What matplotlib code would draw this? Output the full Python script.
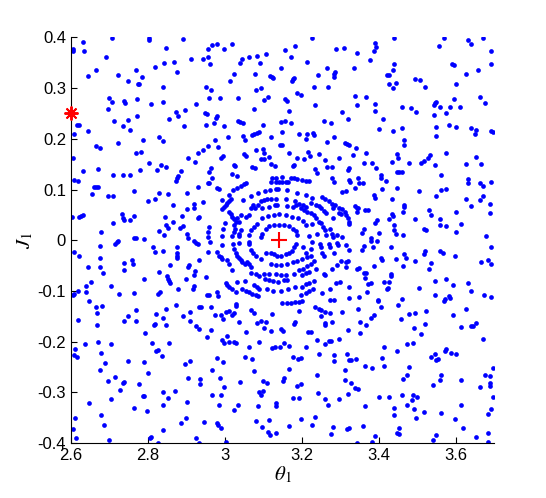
import numpy as np
import matplotlib
matplotlib.use('Agg')
from matplotlib import pyplot as plt

plt.rcParams['font.family'] = ['Liberation Sans', 'DejaVu Sans']
plt.rcParams['mathtext.fontset'] = 'stix'
plt.rcParams['axes.unicode_minus'] = False

# Poincare section points (theta_1, J_1)
orbit_nw = [
    (2.606, 0.377), (2.606, 0.373), (2.632, 0.391), (2.635, 0.374), (2.707, 0.399),
    (2.802, 0.399), (2.802, 0.395), (2.892, 0.397), (2.847, 0.379), (2.956, 0.377),
    (2.692, 0.361), (2.643, 0.323), (2.666, 0.335), (2.721, 0.326), (2.770, 0.335),
    (2.784, 0.321), (2.773, 0.308), (2.778, 0.308), (2.749, 0.314), (2.819, 0.341),
    (2.842, 0.349), (2.868, 0.352), (2.875, 0.331), (2.912, 0.357), (2.943, 0.357),
    (2.955, 0.362), (2.962, 0.348), (2.840, 0.302), (2.950, 0.303), (2.958, 0.280),
    (2.699, 0.281), (2.707, 0.272), (2.738, 0.275), (2.740, 0.270), (2.772, 0.279),
    (2.808, 0.269), (2.840, 0.273), (2.695, 0.258), (2.712, 0.235), (2.734, 0.226),
    (2.749, 0.238), (2.754, 0.217), (2.771, 0.245), (2.855, 0.240), (2.872, 0.253),
    (2.879, 0.244), (2.897, 0.256), (2.925, 0.269), (2.948, 0.250), (2.954, 0.248),
    (2.894, 0.226), (2.952, 0.227), (2.616, 0.227), (2.622, 0.227), (2.645, 0.215),
    (2.609, 0.209), (2.721, 0.191), (2.787, 0.197), (2.829, 0.203), (2.838, 0.195),
    (2.664, 0.185), (2.676, 0.181), (2.770, 0.173), (2.783, 0.175), (2.904, 0.162),
    (2.930, 0.173), (2.942, 0.178), (2.956, 0.186), (2.605, 0.162), (2.803, 0.153),
    (2.835, 0.148), (2.923, 0.154),
]

orbit_n = [
    (2.966, 0.385), (2.979, 0.387), (2.998, 0.377), (3.018, 0.387), (3.039, 0.349),
    (3.044, 0.357), (3.062, 0.361), (3.083, 0.364), (3.091, 0.349), (3.107, 0.367),
    (3.156, 0.375), (3.182, 0.383), (3.171, 0.361), (3.226, 0.399), (3.213, 0.351),
    (3.290, 0.377), (3.309, 0.379), (3.024, 0.327), (3.013, 0.314), (3.078, 0.327),
    (3.117, 0.323), (3.123, 0.321), (3.126, 0.319), (3.146, 0.339), (3.174, 0.314),
    (3.178, 0.317), (3.181, 0.319), (3.242, 0.325), (3.265, 0.339), (3.283, 0.327),
    (3.287, 0.331), (3.284, 0.321), (2.964, 0.296), (3.081, 0.296), (3.094, 0.300),
    (3.103, 0.276), (3.112, 0.282), (3.187, 0.290), (3.197, 0.286), (3.156, 0.278),
    (3.162, 0.274), (3.233, 0.302), (3.267, 0.302), (2.987, 0.280), (3.034, 0.280),
    (3.076, 0.258), (3.166, 0.254), (3.235, 0.266), (3.304, 0.252), (3.319, 0.240),
    (2.976, 0.242), (2.980, 0.245), (2.972, 0.231), (2.998, 0.225), (3.034, 0.235),
    (3.040, 0.233), (3.047, 0.231), (3.099, 0.227), (3.146, 0.233), (3.156, 0.235),
    (3.171, 0.231), (3.259, 0.236), (3.275, 0.231), (3.008, 0.203), (2.974, 0.197),
    (3.046, 0.205), (3.052, 0.197), (3.070, 0.207), (3.077, 0.209), (3.084, 0.211),
    (3.089, 0.213), (3.120, 0.203), (3.148, 0.213), (3.193, 0.209), (3.213, 0.209),
    (3.228, 0.211), (3.232, 0.207), (3.211, 0.199), (3.283, 0.203), (3.266, 0.193),
    (2.982, 0.183), (3.143, 0.187), (3.148, 0.187), (3.166, 0.173), (3.081, 0.177),
    (3.099, 0.179), (3.101, 0.173), (3.049, 0.171), (3.055, 0.167), (2.991, 0.163),
    (2.995, 0.166), (3.094, 0.161), (3.103, 0.161), (3.114, 0.165), (3.187, 0.163),
    (3.205, 0.161), (3.221, 0.167), (3.216, 0.175), (3.244, 0.171), (3.260, 0.159),
    (3.296, 0.163), (3.312, 0.191), (3.317, 0.189), (3.322, 0.187), (3.024, 0.149),
    (3.026, 0.146), (3.070, 0.145), (3.078, 0.143), (3.119, 0.150), (3.130, 0.146),
    (3.178, 0.146), (3.180, 0.149), (2.964, 0.142), (3.265, 0.145), (3.278, 0.145),
    (3.235, 0.140), (3.322, 0.142), (2.966, 0.122),
]

orbit_ne = [
    (3.439, 0.399), (3.569, 0.398), (3.670, 0.399), (3.631, 0.395), (3.641, 0.387),
    (3.390, 0.389), (3.392, 0.381), (3.387, 0.373), (3.343, 0.369), (3.556, 0.383),
    (3.691, 0.373), (3.377, 0.355), (3.441, 0.347), (3.335, 0.339), (3.436, 0.335),
    (3.421, 0.325), (3.426, 0.325), (3.591, 0.347), (3.595, 0.345), (3.691, 0.347),
    (3.657, 0.335), (3.626, 0.327), (3.493, 0.318), (3.506, 0.316), (3.426, 0.308),
    (3.444, 0.310), (3.436, 0.300), (3.519, 0.302), (3.602, 0.308), (3.338, 0.284),
    (3.366, 0.282), (3.343, 0.266), (3.390, 0.268), (3.390, 0.254), (3.460, 0.262),
    (3.483, 0.260), (3.496, 0.252), (3.543, 0.266), (3.547, 0.270), (3.550, 0.272),
    (3.558, 0.262), (3.595, 0.278), (3.584, 0.262), (3.610, 0.262), (3.574, 0.250),
    (3.662, 0.282), (3.675, 0.270), (3.410, 0.240), (3.543, 0.246), (3.402, 0.219),
    (3.436, 0.215), (3.460, 0.221), (3.550, 0.223), (3.582, 0.227), (3.602, 0.223),
    (3.550, 0.205), (3.641, 0.221), (3.654, 0.217), (3.649, 0.209), (3.692, 0.215),
    (3.698, 0.213), (3.467, 0.197), (3.465, 0.187), (3.340, 0.181), (3.332, 0.169),
    (3.366, 0.173), (3.447, 0.171), (3.449, 0.163), (3.532, 0.169), (3.528, 0.163),
    (3.517, 0.157), (3.509, 0.152), (3.576, 0.173), (3.654, 0.165), (3.361, 0.153),
    (3.382, 0.152), (3.434, 0.155), (3.480, 0.152), (3.547, 0.148), (3.628, 0.150),
    (3.665, 0.150), (3.392, 0.142),
]

orbit_w = [
    (2.630, 0.136), (2.669, 0.140), (2.780, 0.138), (2.823, 0.138), (2.847, 0.145),
    (2.887, 0.137), (2.959, 0.134), (2.609, 0.118), (2.619, 0.117), (2.708, 0.128),
    (2.734, 0.128), (2.754, 0.128), (2.878, 0.126), (2.875, 0.122), (2.872, 0.117),
    (2.955, 0.112), (2.959, 0.112), (2.659, 0.106), (2.665, 0.106), (2.669, 0.106),
    (2.765, 0.098), (2.829, 0.094), (2.853, 0.092), (2.901, 0.094), (2.929, 0.106),
    (2.654, 0.092), (2.696, 0.087), (2.708, 0.087), (2.819, 0.082), (2.801, 0.078),
    (2.866, 0.070), (2.920, 0.072), (2.920, 0.064), (2.901, 0.061), (2.942, 0.076),
    (2.603, 0.045), (2.622, 0.046), (2.626, 0.048), (2.630, 0.049), (2.733, 0.051),
    (2.735, 0.043), (2.738, 0.039), (2.754, 0.039), (2.764, 0.048), (2.710, 0.034),
    (2.845, 0.045), (2.847, 0.030), (2.853, 0.025), (2.888, 0.047), (2.884, 0.025),
    (2.892, 0.029), (2.930, 0.043), (2.933, 0.046), (2.959, 0.026), (2.955, 0.016),
    (2.956, 0.007), (2.961, -0.003), (2.828, 0.019), (2.865, 0.036), (2.842, 0.011),
    (2.679, 0.017), (2.765, 0.004), (2.770, 0.004), (2.791, 0.003), (2.901, 0.013),
    (2.905, 0.004), (2.919, -0.001), (2.924, -0.005), (2.929, -0.008), (2.719, -0.003),
    (2.715, -0.007), (2.721, -0.002), (2.675, -0.011), (2.813, -0.013), (2.818, -0.023),
    (2.876, -0.013), (2.609, -0.024), (2.622, -0.031), (2.839, -0.021), (2.876, -0.026),
    (2.876, -0.030), (2.876, -0.034), (2.957, -0.024), (2.675, -0.034), (2.758, -0.038),
    (2.761, -0.046), (2.738, -0.044), (2.933, -0.038), (2.645, -0.052), (2.676, -0.053),
    (2.684, -0.064), (2.738, -0.059), (2.858, -0.048), (2.906, -0.049), (2.903, -0.053),
    (2.923, -0.061), (2.920, -0.068), (2.830, -0.062), (2.849, -0.070), (2.853, -0.076),
    (2.856, -0.080), (2.858, -0.084), (2.899, -0.076), (2.952, -0.072), (2.790, -0.076),
    (2.653, -0.082), (2.640, -0.090), (2.705, -0.090), (2.639, -0.101), (2.617, -0.100),
    (2.609, -0.105), (2.604, -0.107), (2.920, -0.090), (2.917, -0.096), (2.877, -0.096),
    (2.831, -0.101), (2.825, -0.106), (2.724, -0.106), (2.764, -0.103), (2.953, -0.107),
    (2.959, -0.107),
]

orbit_core = [
    (3.240, 0.132), (3.019, 0.130), (3.032, 0.127), (3.123, 0.123), (3.132, 0.123),
    (3.149, 0.125), (3.171, 0.123), (3.179, 0.122), (3.188, 0.121), (3.201, 0.119),
    (3.210, 0.117), (3.218, 0.117), (3.119, 0.115), (3.132, 0.115), (3.140, 0.115),
    (3.149, 0.115), (3.158, 0.115), (3.165, 0.115), (3.279, 0.122), (3.283, 0.115),
    (2.980, 0.103), (2.985, 0.102), (3.021, 0.099), (3.032, 0.103), (3.041, 0.107),
    (3.050, 0.110), (3.056, 0.113), (3.087, 0.094), (3.104, 0.097), (3.117, 0.099),
    (3.132, 0.101), (3.139, 0.101), (3.162, 0.099), (3.188, 0.094), (3.210, 0.090),
    (3.227, 0.084), (3.253, 0.086), (3.261, 0.081), (3.270, 0.077), (3.279, 0.072),
    (3.287, 0.069), (3.298, 0.064), (3.305, 0.061), (3.305, 0.096), (2.992, 0.079),
    (3.011, 0.090), (3.015, 0.082), (3.011, 0.078), (3.006, 0.074), (3.002, 0.070),
    (2.998, 0.066), (2.993, 0.061), (3.047, 0.079), (3.067, 0.088), (3.093, 0.077),
    (3.101, 0.079), (3.110, 0.081), (3.119, 0.082), (3.132, 0.081), (3.158, 0.081),
    (3.182, 0.077), (3.184, 0.070), (3.192, 0.072), (3.203, 0.069), (3.210, 0.066),
    (3.225, 0.074), (3.236, 0.070), (3.244, 0.067), (3.251, 0.063), (3.257, 0.057),
    (3.263, 0.053), (3.073, 0.069), (3.087, 0.070), (3.069, 0.064), (3.078, 0.063),
    (3.114, 0.066), (3.130, 0.070), (3.136, 0.070), (3.161, 0.068), (3.177, 0.066),
    (3.197, 0.063), (3.205, 0.059), (3.214, 0.056), (3.223, 0.053), (3.231, 0.049),
    (3.238, 0.043), (3.244, 0.036), (3.280, 0.063), (3.296, 0.053), (3.303, 0.051),
    (3.280, 0.044), (3.011, 0.056), (3.015, 0.051), (3.019, 0.046), (3.024, 0.042),
    (3.041, 0.049), (3.032, 0.043), (3.028, 0.036), (3.024, 0.030), (3.056, 0.046),
    (3.063, 0.049), (3.097, 0.063), (3.097, 0.043), (3.113, 0.048), (3.127, 0.049),
    (3.142, 0.051), (3.158, 0.049), (3.175, 0.046), (3.191, 0.043), (3.203, 0.038),
    (3.211, 0.030), (3.084, 0.033), (3.075, 0.026), (3.069, 0.020), (3.064, 0.010),
    (3.000, 0.035), (2.995, 0.023), (2.992, 0.009), (3.037, 0.036), (3.026, 0.023),
    (3.024, 0.016), (3.019, 0.008), (3.041, 0.020), (3.038, 0.013), (3.037, 0.009),
    (3.106, 0.023), (3.114, 0.028), (3.127, 0.030), (3.142, 0.031), (3.153, 0.030),
    (3.166, 0.028), (3.177, 0.023), (3.184, 0.018), (3.188, 0.010), (3.097, 0.013),
    (3.095, 0.007), (3.227, 0.033), (3.251, 0.035), (3.255, 0.026), (3.260, 0.020),
    (3.263, 0.010), (3.218, 0.008), (3.240, 0.013), (3.274, 0.022), (3.279, 0.013),
    (3.280, 0.007), (3.292, 0.010), (3.305, 0.007),
    (2.993, -0.010), (2.980, -0.023), (2.985, -0.030), (3.021, -0.008), (3.037, -0.005),
    (3.024, -0.018), (3.028, -0.025), (3.032, -0.030), (3.037, -0.034), (3.041, -0.038),
    (3.045, -0.043), (3.052, -0.047), (3.063, -0.003), (3.064, -0.008), (3.067, -0.020),
    (3.073, -0.026), (3.080, -0.030), (3.093, -0.036), (3.107, -0.026), (3.119, -0.026),
    (3.127, -0.028), (3.136, -0.030), (3.147, -0.030), (3.158, -0.028), (3.166, -0.025),
    (3.175, -0.021), (3.181, -0.014), (3.184, -0.007), (3.203, -0.013), (3.210, -0.026),
    (3.225, -0.018), (3.227, -0.003), (3.248, -0.008), (3.249, -0.014), (3.253, -0.026),
    (3.257, -0.030), (3.270, -0.008), (3.274, -0.014), (3.283, -0.026), (3.292, -0.005),
    (3.294, -0.010), (3.006, -0.038), (3.011, -0.047), (2.989, -0.032), (2.993, -0.036),
    (3.018, -0.058), (3.058, -0.043), (3.063, -0.047), (3.069, -0.053), (3.067, -0.065),
    (3.080, -0.067), (3.090, -0.071), (3.101, -0.066), (3.119, -0.047), (3.132, -0.049),
    (3.146, -0.049), (3.162, -0.046), (3.177, -0.043), (3.188, -0.040), (3.201, -0.036),
    (3.214, -0.033), (3.223, -0.030), (3.231, -0.040), (3.223, -0.046), (3.214, -0.051),
    (3.203, -0.056), (3.194, -0.059), (3.116, -0.067), (3.132, -0.067), (3.145, -0.069),
    (3.158, -0.069), (3.104, -0.076), (3.114, -0.078), (3.125, -0.080), (3.139, -0.082),
    (3.153, -0.079), (3.162, -0.078), (3.179, -0.066), (3.201, -0.069), (3.210, -0.065),
    (3.220, -0.063), (3.236, -0.056), (3.257, -0.066), (3.279, -0.056), (3.292, -0.049),
    (3.303, -0.040), (3.002, -0.084), (3.006, -0.089), (3.012, -0.092), (3.018, -0.097),
    (3.032, -0.082), (3.052, -0.080), (3.045, -0.096), (3.054, -0.099), (3.063, -0.102),
    (3.071, -0.105), (3.080, -0.107), (3.087, -0.109), (3.075, -0.089), (3.084, -0.092),
    (3.090, -0.096), (3.110, -0.097), (3.125, -0.100), (3.145, -0.100), (3.165, -0.097),
    (3.182, -0.092), (3.197, -0.107), (3.210, -0.104), (3.220, -0.100), (3.229, -0.097),
    (3.201, -0.092), (3.210, -0.087), (3.220, -0.084), (3.231, -0.080), (3.253, -0.104),
    (3.261, -0.069), (3.274, -0.097), (3.289, -0.084), (3.300, -0.082), (2.980, -0.102),
    (2.983, -0.109), (3.030, -0.102), (3.028, -0.125), (3.030, -0.130), (3.002, -0.142),
    (3.011, -0.140), (3.067, -0.138), (3.075, -0.144), (3.149, -0.124), (3.162, -0.124),
    (3.171, -0.123), (3.182, -0.122), (3.192, -0.121), (3.201, -0.119), (3.123, -0.145),
    (3.192, -0.140), (3.234, -0.132), (3.244, -0.135), (3.251, -0.138), (3.274, -0.117),
    (3.283, -0.117), (3.261, -0.142), (3.274, -0.144), (3.305, -0.142),
]

orbit_e = [
    (3.320, 0.138), (3.447, 0.134), (3.454, 0.134), (3.460, 0.135), (3.324, 0.119),
    (3.326, 0.114), (3.346, 0.123), (3.348, 0.112), (3.358, 0.112), (3.339, 0.103),
    (3.405, 0.128), (3.406, 0.123), (3.419, 0.117), (3.447, 0.104), (3.409, 0.102),
    (3.387, 0.090), (3.390, 0.084), (3.434, 0.082), (3.504, 0.098), (3.561, 0.128),
    (3.550, 0.088), (3.563, 0.099), (3.576, 0.101), (3.631, 0.121), (3.633, 0.112),
    (3.662, 0.112), (3.672, 0.107), (3.691, 0.114), (3.626, 0.082), (3.662, 0.080),
    (3.672, 0.088), (3.639, 0.067), (3.688, 0.072), (3.688, 0.053), (3.316, 0.097),
    (3.338, 0.067), (3.344, 0.064), (3.346, 0.063), (3.343, 0.055), (3.365, 0.059),
    (3.372, 0.059), (3.313, 0.056), (3.316, 0.049), (3.319, 0.043), (3.322, 0.036),
    (3.324, 0.033), (3.465, 0.070), (3.467, 0.065), (3.462, 0.055), (3.435, 0.051),
    (3.437, 0.048), (3.428, 0.041), (3.439, 0.031), (3.530, 0.059), (3.535, 0.049),
    (3.493, 0.041), (3.558, 0.041), (3.558, 0.031), (3.576, 0.029), (3.600, 0.055),
    (3.615, 0.033), (3.600, 0.017), (3.361, 0.023), (3.356, 0.015), (3.391, 0.035),
    (3.396, 0.040), (3.402, 0.015), (3.441, 0.020), (3.445, 0.013), (3.462, 0.011),
    (3.517, 0.023), (3.522, 0.021), (3.680, 0.009), (3.379, 0.005), (3.379, -0.001),
    (3.395, -0.001), (3.361, -0.012), (3.357, -0.020), (3.384, -0.013), (3.431, -0.013),
    (3.316, -0.010), (3.322, -0.020), (3.521, -0.022), (3.517, -0.028), (3.560, -0.022),
    (3.566, -0.026), (3.599, -0.030), (3.693, -0.013), (3.407, -0.034), (3.409, -0.038),
    (3.444, -0.036), (3.467, -0.028), (3.471, -0.034), (3.493, -0.040), (3.535, -0.044),
    (3.530, -0.056), (3.462, -0.050), (3.387, -0.050), (3.316, -0.043), (3.320, -0.040),
    (3.348, -0.054), (3.344, -0.056), (3.363, -0.064), (3.368, -0.064), (3.364, -0.074),
    (3.431, -0.066), (3.432, -0.071), (3.371, -0.086), (3.379, -0.084), (3.415, -0.082),
    (3.426, -0.082), (3.424, -0.094), (3.421, -0.096), (3.504, -0.094), (3.547, -0.080),
    (3.576, -0.076), (3.592, -0.088), (3.633, -0.084), (3.639, -0.099), (3.667, -0.042),
    (3.683, -0.038), (3.691, -0.046), (3.316, -0.053), (3.322, -0.092), (3.348, -0.111),
    (3.369, -0.101), (3.397, -0.117), (3.460, -0.115), (3.547, -0.107), (3.571, -0.115),
    (3.582, -0.109), (3.584, -0.113), (3.673, -0.107), (3.691, -0.111), (3.322, -0.114),
]

orbit_sw = [
    (2.648, -0.119), (2.664, -0.131), (2.681, -0.129), (2.667, -0.143), (2.619, -0.157),
    (2.667, -0.167), (2.738, -0.159), (2.749, -0.149), (2.770, -0.137), (2.770, -0.159),
    (2.793, -0.182), (2.815, -0.167), (2.819, -0.165), (2.822, -0.146), (2.840, -0.153),
    (2.847, -0.167), (2.847, -0.135), (2.873, -0.127), (2.892, -0.149), (2.910, -0.141),
    (2.910, -0.159), (2.925, -0.169), (2.934, -0.175), (2.934, -0.131), (2.937, -0.132),
    (2.954, -0.190), (2.636, -0.204), (2.611, -0.214), (2.609, -0.226), (2.616, -0.231),
    (2.671, -0.200), (2.679, -0.222), (2.689, -0.242), (2.705, -0.204), (2.676, -0.256),
    (2.747, -0.238), (2.790, -0.240), (2.799, -0.262), (2.811, -0.202), (2.821, -0.218),
    (2.827, -0.216), (2.837, -0.228), (2.855, -0.202), (2.897, -0.244), (2.910, -0.238),
    (2.904, -0.271), (2.936, -0.273), (2.936, -0.283), (2.697, -0.277), (2.715, -0.270),
    (2.736, -0.281), (2.738, -0.279), (2.728, -0.295), (2.777, -0.283), (2.786, -0.306),
    (2.790, -0.306), (2.764, -0.331), (2.798, -0.337), (2.840, -0.299), (2.840, -0.325),
    (2.853, -0.311), (2.871, -0.297), (2.902, -0.319), (2.705, -0.313), (2.648, -0.321),
    (2.679, -0.345), (2.687, -0.364), (2.611, -0.350), (2.606, -0.372), (2.613, -0.389),
    (2.699, -0.394), (2.806, -0.389), (2.808, -0.387), (2.827, -0.399), (2.840, -0.374),
    (2.886, -0.360), (2.899, -0.350), (2.946, -0.358), (2.925, -0.390), (2.933, -0.399),
]

orbit_s = [
    (2.964, -0.131), (2.974, -0.147), (2.990, -0.147), (2.995, -0.155), (3.019, -0.147),
    (3.023, -0.144), (3.037, -0.161), (3.083, -0.163), (3.093, -0.159), (3.106, -0.161),
    (3.101, -0.173), (3.120, -0.179), (3.146, -0.175), (3.151, -0.178), (3.182, -0.161),
    (3.179, -0.165), (3.215, -0.181), (3.225, -0.181), (3.249, -0.150), (3.279, -0.161),
    (3.260, -0.163), (3.260, -0.166), (3.320, -0.176), (2.964, -0.176), (2.993, -0.196),
    (2.998, -0.203), (3.005, -0.188), (3.011, -0.201), (3.024, -0.201), (3.028, -0.203),
    (3.056, -0.181), (3.062, -0.211), (3.088, -0.201), (3.123, -0.212), (3.130, -0.210),
    (3.143, -0.211), (3.153, -0.203), (3.166, -0.208), (3.211, -0.211), (3.239, -0.196),
    (3.260, -0.204), (3.270, -0.199), (3.277, -0.199), (3.296, -0.194), (3.317, -0.224),
    (3.324, -0.236), (3.284, -0.227), (3.284, -0.238), (3.244, -0.224), (3.177, -0.231),
    (3.190, -0.234), (3.197, -0.232), (3.052, -0.231), (3.070, -0.234), (2.980, -0.233),
    (2.995, -0.240), (2.966, -0.256), (3.075, -0.258), (3.166, -0.254), (3.239, -0.265),
    (2.987, -0.271), (3.039, -0.279), (3.099, -0.277), (3.109, -0.281), (3.153, -0.271),
    (3.151, -0.277), (3.312, -0.256), (3.313, -0.275), (2.998, -0.289), (3.187, -0.287),
    (3.197, -0.283), (2.966, -0.305), (2.990, -0.305), (3.088, -0.300), (3.099, -0.298),
    (3.093, -0.304), (3.242, -0.301), (3.320, -0.303), (2.985, -0.325), (3.034, -0.325),
    (3.024, -0.335), (3.086, -0.327), (3.133, -0.321), (3.133, -0.326), (3.178, -0.311),
    (3.192, -0.311), (3.260, -0.313), (3.267, -0.325), (3.296, -0.313), (2.980, -0.360),
    (2.983, -0.364), (2.989, -0.370), (3.082, -0.356), (3.114, -0.354), (3.096, -0.368),
    (3.112, -0.378), (3.117, -0.384), (3.133, -0.380), (3.166, -0.366), (3.197, -0.352),
    (3.234, -0.348), (3.226, -0.364), (3.280, -0.368), (3.277, -0.382), (3.317, -0.372),
    (3.324, -0.370), (3.004, -0.398),
]

orbit_se = [
    (3.398, -0.119), (3.345, -0.135), (3.407, -0.131), (3.449, -0.127), (3.570, -0.119),
    (3.524, -0.139), (3.493, -0.143), (3.478, -0.145), (3.457, -0.155), (3.379, -0.153),
    (3.387, -0.147), (3.351, -0.161), (3.366, -0.167), (3.628, -0.135), (3.592, -0.147),
    (3.613, -0.171), (3.639, -0.169), (3.646, -0.169), (3.654, -0.163), (3.351, -0.182),
    (3.491, -0.173), (3.519, -0.165), (3.511, -0.184), (3.672, -0.194), (3.473, -0.204),
    (3.488, -0.202), (3.415, -0.210), (3.447, -0.218), (3.535, -0.230), (3.547, -0.224),
    (3.548, -0.236), (3.553, -0.234), (3.571, -0.218), (3.575, -0.215), (3.587, -0.222),
    (3.602, -0.224), (3.327, -0.236), (3.340, -0.234), (3.408, -0.232), (3.364, -0.248),
    (3.382, -0.252), (3.415, -0.248), (3.478, -0.250), (3.474, -0.265), (3.462, -0.273),
    (3.561, -0.265), (3.558, -0.275), (3.613, -0.275), (3.675, -0.265), (3.688, -0.268),
    (3.688, -0.281), (3.688, -0.287), (3.696, -0.252), (3.327, -0.281), (3.338, -0.291),
    (3.345, -0.293), (3.540, -0.285), (3.662, -0.289), (3.400, -0.309), (3.426, -0.309),
    (3.460, -0.305), (3.488, -0.305), (3.486, -0.315), (3.499, -0.309), (3.473, -0.325),
    (3.364, -0.327), (3.696, -0.309), (3.439, -0.331), (3.441, -0.345), (3.491, -0.333),
    (3.517, -0.339), (3.561, -0.341), (3.498, -0.350), (3.615, -0.325), (3.692, -0.333),
    (3.685, -0.343), (3.597, -0.352), (3.358, -0.366), (3.447, -0.380), (3.454, -0.382),
    (3.452, -0.370), (3.390, -0.386), (3.382, -0.398), (3.343, -0.399), (3.540, -0.394),
    (3.548, -0.384), (3.620, -0.370), (3.652, -0.388), (3.683, -0.380), (3.683, -0.398),
]

# fixed point and initial condition
fixed_theta, fixed_J = [3.1416], [0.0]
start_theta, start_J = [2.6], [0.25]

xticks = [2.6, 2.8, 3.0, 3.2, 3.4, 3.6]
xtick_labels = ['2.6', '2.8', '3', '3.2', '3.4', '3.6']
yticks = [-0.4, -0.3, -0.2, -0.1, 0.0, 0.1, 0.2, 0.3, 0.4]
ytick_labels = ['-0.4', '-0.3', '-0.2', '-0.1', '0', '0.1', '0.2', '0.3', '0.4']

pts = np.array(orbit_nw + orbit_n + orbit_ne + orbit_w + orbit_core
               + orbit_e + orbit_sw + orbit_s + orbit_se)

fig = plt.figure(figsize=(5.46, 4.98), dpi=100)
ax = fig.add_axes([0.13, 0.11, 0.775, 0.815])

ax.plot(pts[:, 0], pts[:, 1], 'o', color='#0000ff', ms=3.4, mew=0, linestyle='none')
ax.plot(fixed_theta, fixed_J, '+', color='#ff0000', ms=11, mew=1.5)
ax.plot(start_theta, start_J, marker=(8, 2, 0), color='#ff0000', ms=10, mew=1.4,
        linestyle='none', clip_on=False, zorder=5)

ax.set_xlim(2.6, 3.7)
ax.set_ylim(-0.4, 0.4)
ax.set_xticks(xticks)
ax.set_xticklabels(xtick_labels)
ax.set_yticks(yticks)
ax.set_yticklabels(ytick_labels)
ax.spines['top'].set_visible(False)
ax.spines['right'].set_visible(False)
ax.tick_params(direction='in', length=4, top=False, right=False, labelsize=12)

ax.set_xlabel(r'$\theta_{\mathrm{1}}$', fontsize=15, labelpad=1)
ax.set_ylabel(r'$J_{\mathrm{1}}$', fontsize=15, labelpad=2)

fig.savefig('out.png', dpi=100)
